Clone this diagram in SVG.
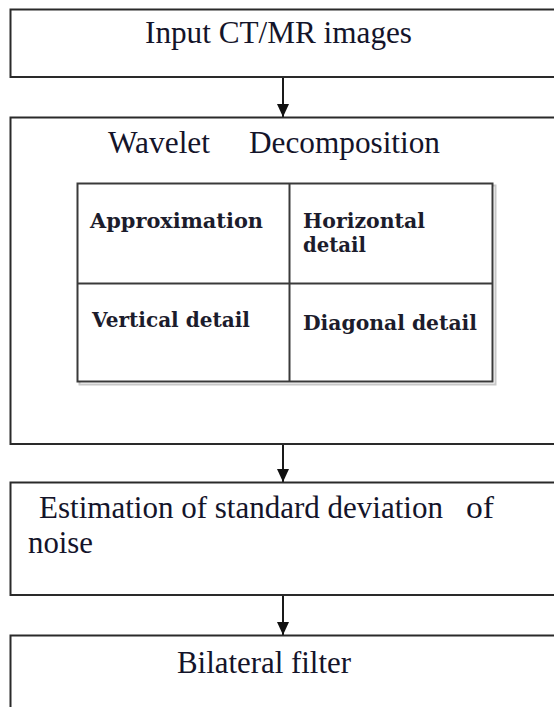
<svg xmlns="http://www.w3.org/2000/svg" width="554" height="707" viewBox="0 0 554 707">
<style>
.box{fill:#fff;stroke:#2a2a2a;stroke-width:2}
.cell{fill:none;stroke:#3a3a3a;stroke-width:2}
.shadow{fill:none;stroke:#c8c8c8;stroke-width:2}
.t{font-family:"Liberation Serif","Times New Roman",serif;font-size:31px;fill:#14142a}
.c{font-family:"DejaVu Serif","Liberation Serif",serif;font-size:21px;font-weight:bold;fill:#1c1c2c}
.conn{stroke:#1a1a1a;stroke-width:2;fill:none}
</style>
<defs>
<marker id="ah" markerUnits="userSpaceOnUse" markerWidth="14" markerHeight="12" refX="13" refY="6" orient="auto">
<path d="M0,0 L13,6 L0,12 Z" fill="#111"/>
</marker>
</defs>
<g id="connectors">
<line class="conn" x1="283" y1="77" x2="283" y2="117" marker-end="url(#ah)"/>
<line class="conn" x1="283" y1="444" x2="283" y2="482" marker-end="url(#ah)"/>
<line class="conn" x1="283" y1="595" x2="283" y2="635" marker-end="url(#ah)"/>
</g>
<g id="input">
<rect class="box" x="10.5" y="9.5" width="560" height="67.5"/>
<text class="t" x="145" y="43" textLength="267" lengthAdjust="spacingAndGlyphs">Input CT/MR images</text>
</g>
<g id="wavelet">
<rect class="box" x="10.5" y="117.5" width="560" height="326.5"/>
<text class="t" x="108" y="153" textLength="102" lengthAdjust="spacingAndGlyphs">Wavelet</text>
<text class="t" x="249" y="153" textLength="191" lengthAdjust="spacingAndGlyphs">Decomposition</text>
<g id="subbands">
<rect class="shadow" x="79.5" y="185.5" width="416" height="199"/>
<rect class="cell" x="77.5" y="183.5" width="415" height="198" style="fill:#fff"/>
<line class="cell" x1="289.5" y1="183.5" x2="289.5" y2="381.5"/>
<line class="cell" x1="77.5" y1="283.5" x2="492.5" y2="283.5"/>
<text class="c" x="90" y="228" textLength="173" lengthAdjust="spacingAndGlyphs">Approximation</text>
<text class="c" x="303" y="228" textLength="122" lengthAdjust="spacingAndGlyphs">Horizontal</text>
<text class="c" x="303" y="252" textLength="63" lengthAdjust="spacingAndGlyphs">detail</text>
<text class="c" x="92" y="327" textLength="158" lengthAdjust="spacingAndGlyphs">Vertical detail</text>
<text class="c" x="303" y="330" textLength="174" lengthAdjust="spacingAndGlyphs">Diagonal detail</text>
</g>
</g>
<g id="estimation">
<rect class="box" x="10.5" y="482.5" width="560" height="112.5"/>
<text class="t" x="39" y="518" textLength="404" lengthAdjust="spacingAndGlyphs">Estimation of standard deviation</text>
<text class="t" x="466" y="518" textLength="28" lengthAdjust="spacingAndGlyphs">of</text>
<text class="t" x="28" y="553" textLength="65" lengthAdjust="spacingAndGlyphs">noise</text>
</g>
<g id="bilateral">
<rect class="box" x="10.5" y="635.5" width="560" height="100"/>
<text class="t" x="177" y="673" textLength="174" lengthAdjust="spacingAndGlyphs">Bilateral filter</text>
</g>
</svg>
